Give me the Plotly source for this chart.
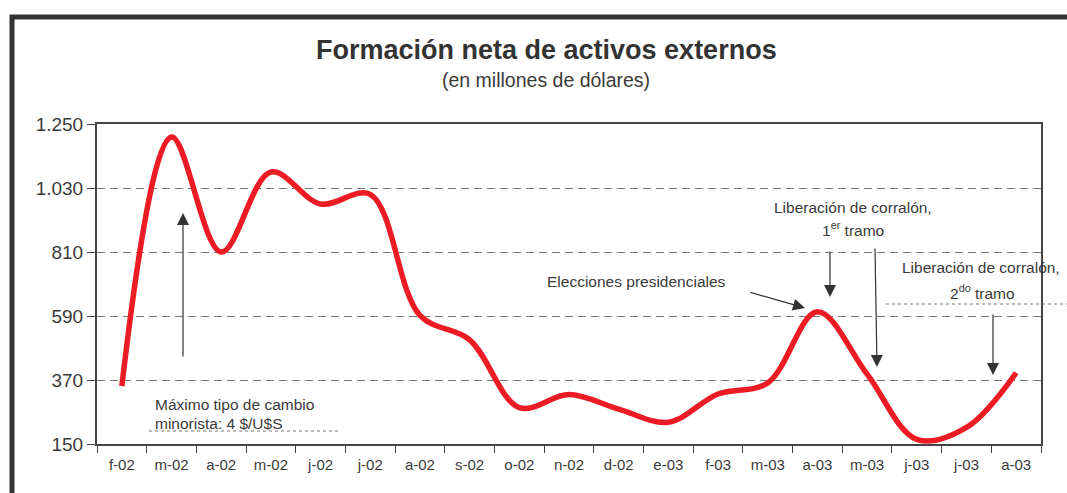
import plotly.graph_objects as go

# ---- data ----
months = ["f-02", "m-02", "a-02", "m-02", "j-02", "j-02", "a-02", "s-02", "o-02", "n-02",
          "d-02", "e-03", "f-03", "m-03", "a-03", "m-03", "j-03", "j-03", "a-03"]
values = [349, 1205, 810, 1085, 975, 1008, 592, 508, 275, 320,
          270, 225, 322, 360, 605, 390, 166, 207, 395]
y_ticks = [150, 370, 590, 810, 1030, 1250]
y_tick_labels = ["150", "370", "590", "810", "1.030", "1.250"]

W, H = 1067, 493
L, R, T, B = 97, 26, 124, 49
PW, PH = W - L - R, H - T - B

def px(x):
    return (x - L) / PW

def py(y):
    return (H - B - y) / PH

FONT = "Liberation Sans, Arial, sans-serif"
TXT = "#3a3a3a"
AX = "#444444"

xs = list(range(len(months)))

fig = go.Figure()
fig.add_trace(go.Scatter(
    x=xs, y=values, mode="lines",
    line=dict(color="#ed1c24", width=5.5, shape="spline", smoothing=1.0),
    hoverinfo="skip", showlegend=False,
))

annotations = []

def text(x, y, s, size=15.5, xanchor="center"):
    annotations.append(dict(x=px(x), y=py(y), xref="paper", yref="paper", text=s,
                            showarrow=False, xanchor=xanchor, yanchor="middle",
                            font=dict(family=FONT, size=size, color=TXT)))

def arrow(x_tip, y_tip, x_tail, y_tail):
    annotations.append(dict(x=px(x_tip), y=py(y_tip), xref="paper", yref="paper", text="",
                            showarrow=True, ax=x_tail - x_tip, ay=y_tail - y_tip,
                            arrowhead=2, arrowsize=2.0, arrowwidth=1.2, arrowcolor="#333333",
                            standoff=0))

# title & subtitle
annotations.append(dict(x=px(546), y=py(50), xref="paper", yref="paper",
                        text="<b>Formación neta de activos externos</b>", showarrow=False,
                        xanchor="center", yanchor="middle",
                        font=dict(family=FONT, size=27, color="#333333")))
text(546, 80, "(en millones de dólares)", size=19.5)

text(153, 404, "Máximo tipo de cambio", xanchor="left")
text(153, 423, "minorista: 4 $/U$S", xanchor="left")
text(636, 281, "Elecciones presidenciales")
text(853, 207, "Liberación de corralón,")
text(853, 229, "1<sup>er</sup> tramo")
text(981, 267, "Liberación de corralón,")
text(982, 292, "2<sup>do</sup> tramo")

arrow(183, 213, 183, 358)
arrow(805, 308, 749, 292)
arrow(830, 297, 830, 250)
arrow(877, 367, 875, 247)
arrow(993, 375, 993, 313)

shapes = [
    dict(type="line", xref="paper", yref="paper", x0=px(149), x1=px(340), y0=py(431), y1=py(431),
         line=dict(color="#777777", width=1, dash="dot")),
    dict(type="line", xref="paper", yref="paper", x0=px(886), x1=px(1067), y0=py(304), y1=py(304),
         line=dict(color="#777777", width=1, dash="dot")),
    dict(type="rect", xref="paper", yref="paper", x0=px(12), x1=px(1090), y0=py(17), y1=py(520),
         line=dict(color="#333333", width=5), fillcolor="rgba(0,0,0,0)"),
]

fig.update_layout(
    width=W, height=H,
    margin=dict(l=L, r=R, t=T, b=B, pad=0),
    paper_bgcolor="white", plot_bgcolor="white",
    showlegend=False,
    annotations=annotations,
    shapes=shapes,
    font=dict(family=FONT, color=TXT),
)

fig.update_xaxes(
    range=[-0.5, len(months) - 0.5],
    tickmode="array", tickvals=xs, ticktext=months,
    ticks="", showgrid=False, zeroline=False,
    showline=True, linecolor=AX, linewidth=2, mirror=True,
    tickfont=dict(family=FONT, size=15, color=TXT),
    ticklabelstandoff=6,
    minor=dict(tickmode="array", tickvals=[i - 0.5 for i in range(len(months) + 1)],
               ticks="outside", ticklen=7, tickwidth=1, tickcolor=AX, showgrid=False),
    fixedrange=True,
)
fig.update_yaxes(
    range=[150, 1250],
    tickmode="array", tickvals=y_ticks, ticktext=y_tick_labels,
    ticks="outside", ticklen=8, tickwidth=1, tickcolor=AX,
    showgrid=True, gridcolor="#777777", gridwidth=1, griddash="8px,5px",
    zeroline=False,
    showline=True, linecolor=AX, linewidth=2, mirror=True,
    tickfont=dict(family=FONT, size=19, color=TXT),
    fixedrange=True,
)

fig.write_html("out.html", config={"displayModeBar": False},
               post_script="document.body.style.margin='0px';document.body.style.overflow='hidden';")
